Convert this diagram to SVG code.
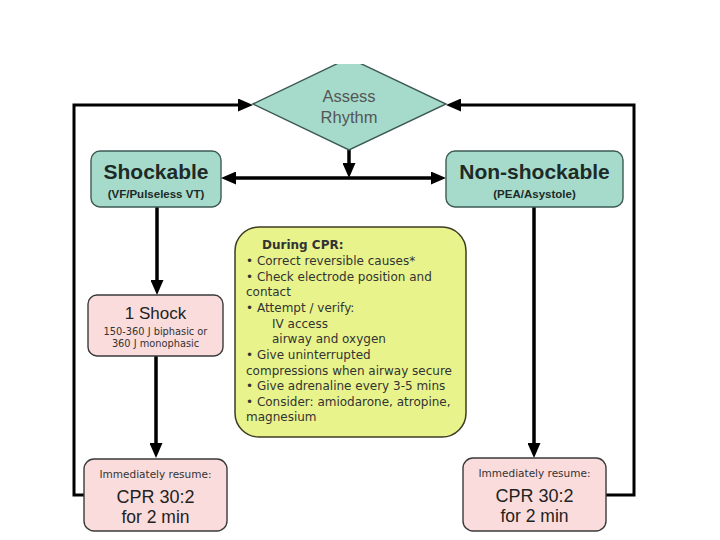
<svg xmlns="http://www.w3.org/2000/svg" width="720" height="540" viewBox="0 0 720 540">
<style>
.teal{fill:#a6dbcc;stroke:#3c5a53;stroke-width:1.4}
.pink{fill:#fadcdc;stroke:#3a3a3a;stroke-width:1.4}
.yel{fill:#e8f38c;stroke:#3d3d22;stroke-width:1.5}
.big{font-family:"Liberation Sans",Arial,sans-serif;fill:#222;text-anchor:middle}
.hd{font-family:"Liberation Sans",Arial,sans-serif;font-weight:bold;fill:#1d2a27;text-anchor:middle}
.sm{font-family:"DejaVu Sans",Verdana,sans-serif;fill:#333;text-anchor:middle}
.list{font-family:"DejaVu Sans",Verdana,sans-serif;font-size:12px;fill:#333}
.conn{fill:none;stroke:#000;stroke-width:3.5}
.loop{fill:none;stroke:#000;stroke-width:3}
</style>
<defs>
<marker id="ah" markerUnits="userSpaceOnUse" markerWidth="15" markerHeight="13" refX="5" refY="6.5" orient="auto-start-reverse" viewBox="0 0 15 13">
<path d="M0,0 L15,6.5 L0,13 z" fill="#000"/>
</marker>
<clipPath id="topclip"><rect x="0" y="64" width="720" height="476"/></clipPath>
</defs>
<rect width="720" height="540" fill="#fff"/>
<g id="connectors">
<path class="loop" d="M84,495 H74 V105 H243" marker-end="url(#ah)"/>
<path class="loop" d="M606,495 H634 V105 H456" marker-end="url(#ah)"/>
<path class="conn" d="M349,150 V168" marker-end="url(#ah)"/>
<path class="conn" d="M231,178 H436" marker-start="url(#ah)" marker-end="url(#ah)"/>
<path class="conn" d="M157,207 V285" marker-end="url(#ah)"/>
<path class="conn" d="M156,356 V448" marker-end="url(#ah)"/>
<path class="conn" d="M534,207 V448" marker-end="url(#ah)"/>
</g>
<g id="assess" clip-path="url(#topclip)">
<polygon class="teal" points="253,104 349,58 446,104 349,150"/>
<text class="big" x="349" y="102" font-size="16.5" style="fill:#555">Assess</text>
<text class="big" x="349" y="123" font-size="16.5" style="fill:#555">Rhythm</text>
</g>
<g id="shockable">
<rect class="teal" x="91" y="151" width="130" height="56" rx="9"/>
<text class="hd" x="156" y="179" font-size="21">Shockable</text>
<text class="hd" x="156" y="198" font-size="11.5">(VF/Pulseless VT)</text>
</g>
<g id="nonshockable">
<rect class="teal" x="446" y="151" width="177" height="56" rx="9"/>
<text class="hd" x="534.5" y="179" font-size="21">Non-shockable</text>
<text class="hd" x="534.5" y="198" font-size="11.5">(PEA/Asystole)</text>
</g>
<g id="shock">
<rect class="pink" x="88" y="295" width="135" height="61" rx="9"/>
<text class="big" x="155.5" y="319" font-size="17">1 Shock</text>
<text class="sm" x="155.5" y="335" font-size="9.8">150-360 J biphasic or</text>
<text class="sm" x="155.5" y="347" font-size="9.8">360 J monophasic</text>
</g>
<g id="cpr-left">
<rect class="pink" x="84" y="459" width="143" height="72" rx="10"/>
<text class="sm" x="155.5" y="478" font-size="10.5">Immediately resume:</text>
<text class="big" x="155.5" y="503" font-size="18">CPR 30:2</text>
<text class="big" x="155.5" y="523" font-size="17.5">for 2 min</text>
</g>
<g id="cpr-right">
<rect class="pink" x="463" y="458" width="143" height="73" rx="10"/>
<text class="sm" x="534.5" y="477" font-size="10.5">Immediately resume:</text>
<text class="big" x="534.5" y="502" font-size="18">CPR 30:2</text>
<text class="big" x="534.5" y="522" font-size="17.5">for 2 min</text>
</g>
<g id="during-cpr">
<rect class="yel" x="235" y="227" width="231" height="210" rx="24"/>
<text class="list" x="262" y="249" font-weight="bold" font-size="12">During CPR:</text>
<text class="list" x="246" y="265">• Correct reversible causes*</text>
<text class="list" x="246" y="281">• Check electrode position and</text>
<text class="list" x="246" y="296">contact</text>
<text class="list" x="246" y="312">• Attempt / verify:</text>
<text class="list" x="272" y="328">IV access</text>
<text class="list" x="272" y="343">airway and oxygen</text>
<text class="list" x="246" y="359">• Give uninterrupted</text>
<text class="list" x="246" y="375">compressions when airway secure</text>
<text class="list" x="246" y="390">• Give adrenaline every 3-5 mins</text>
<text class="list" x="246" y="406">• Consider: amiodarone, atropine,</text>
<text class="list" x="246" y="421">magnesium</text>
</g>
</svg>
